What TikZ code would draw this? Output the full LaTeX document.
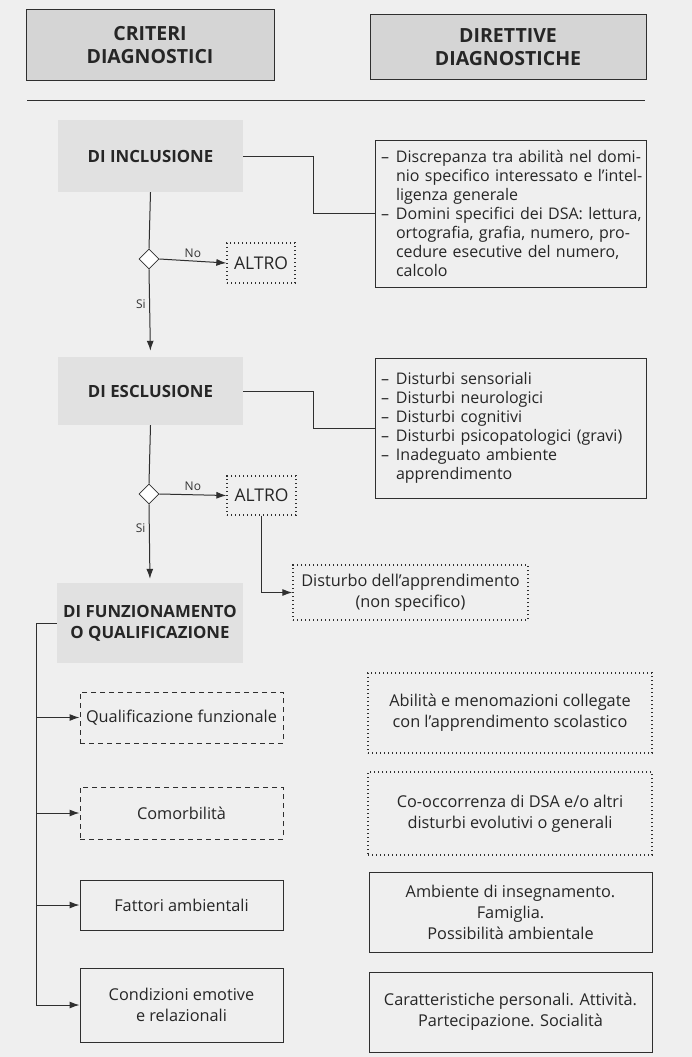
\documentclass[tikz,border=0pt]{standalone}
\usepackage{fontspec}
\setmainfont{Open Sans}
\usepackage{xcolor}
\usetikzlibrary{shapes,arrows.meta,positioning,calc}
\definecolor{pagebg}{HTML}{EFEFEF}
\definecolor{hdrgray}{HTML}{D5D5D5}
\definecolor{critgray}{HTML}{E1E1E1}
\definecolor{inkgray}{HTML}{2F2F2F}
\newcommand{\trat}[1]{\mbox{\makebox[15pt][l]{–}#1}}
\newcommand{\cont}[1]{\mbox{\hspace*{15pt}#1}}

\begin{document}
\begin{tikzpicture}[x=1pt,y=-1pt,
    hdrbox/.style={draw=inkgray, fill=hdrgray, line width=1pt, align=center,
        text=black!85, font=\fontsize{19.5}{23}\selectfont\bfseries},
    critbox/.style={fill=critgray, minimum width=185pt, align=center,
        text=black!85, font=\fontsize{16.8}{21}\selectfont\bfseries},
    dirbox/.style={draw=inkgray, line width=1pt, text width=259pt, inner xsep=6pt,
        align=left, text=black!85, font=\fontsize{16}{19}\selectfont},
    plainbox/.style={draw=inkgray, line width=1pt, align=center, inner sep=0pt,
        text=black!85, font=\fontsize{16.3}{21}\selectfont},
    dotbox/.style={plainbox, line width=1.3pt, dash pattern=on 1.3pt off 2.7pt},
    dashbox/.style={plainbox, dash pattern=on 5pt off 4pt},
    dec/.style={diamond, draw=inkgray, fill=white, line width=0.8pt,
        minimum size=20pt, inner sep=0pt},
    link/.style={draw=inkgray, line width=1pt},
    arr/.style={link, -{Latex[length=10pt,width=7pt]}},
    lbl/.style={font=\fontsize{12}{13}\selectfont, text=black!80}]

    % Pagina
    \useasboundingbox (0,0) rectangle (692,1057);
    \fill[pagebg] (0,0) rectangle (692,1057);

    % Intestazioni
    \node[hdrbox, minimum width=248pt, minimum height=70pt] (critH) at (150,45) {CRITERI\\DIAGNOSTICI};
    \node[hdrbox, minimum width=276pt, minimum height=64pt] (dirH) at (508,47) {DIRETTIVE\\DIAGNOSTICHE};
    \coordinate (ruleL) at (27,100);
    \coordinate (ruleR) at (645,100);
    \draw[link] (ruleL) -- (ruleR);

    % Inclusione
    \node[critbox, minimum height=72pt] (incl) at (150.5,156) {DI INCLUSIONE};
    \node[dirbox, minimum height=147pt] (dirA) at (510.5,213.5) {%
        \trat{Discrepanza tra abilità nel domi-}\\
        \cont{nio specifico interessato e l’intel-}\\
        \cont{ligenza generale}\\
        \trat{Domini specifici dei DSA: lettura,}\\
        \cont{ortografia, grafia, numero, pro-}\\
        \cont{cedure esecutive del numero,}\\
        \cont{calcolo}};
    \node[dec] (decA) at (149,259) {};
    \node[dotbox, minimum width=68pt, minimum height=40pt, font=\fontsize{17.5}{20}\selectfont] (altroA) at (261,263) {ALTRO};
    \draw[link] (incl.east) -- ++(70,0) |- (dirA.west);
    \draw[link] (incl.south) -- (decA.north);
    \draw[arr] (decA.east) -- node[lbl, above] {No} (altroA.west);

    % Esclusione
    \node[critbox, minimum height=68pt] (escl) at (150.5,391) {DI ESCLUSIONE};
    \node[dirbox, minimum height=140pt] (dirB) at (510.5,428) {%
        \trat{Disturbi sensoriali}\\
        \trat{Disturbi neurologici}\\
        \trat{Disturbi cognitivi}\\
        \trat{Disturbi psicopatologici (gravi)}\\
        \trat{Inadeguato ambiente}\\
        \cont{apprendimento}};
    \draw[arr, shorten >=6pt] (decA.south) -- node[lbl, left, pos=0.4] {Si} (escl.north);
    \node[dec] (decB) at (149,494) {};
    \node[dotbox, minimum width=69pt, minimum height=39pt, font=\fontsize{17.5}{20}\selectfont] (altroB) at (261.5,495.5) {ALTRO};
    \node[dotbox, minimum width=235pt, minimum height=55pt] (dist) at (410.5,592.5) {Disturbo dell’apprendimento\\(non specifico)};
    \draw[link] (escl.east) -- ++(70,0) |- (dirB.west);
    \draw[link] (escl.south) -- (decB.north);
    \draw[arr] (decB.east) -- node[lbl, above] {No} (altroB.west);
    \draw[arr] (altroB.south) |- (dist.west);

    % Funzionamento
    \node[critbox, minimum width=186pt, minimum height=80pt] (funz) at (150,623) {DI FUNZIONAMENTO\\O QUALIFICAZIONE};
    \draw[arr, shorten >=4pt] (decB.south) -- node[lbl, left, pos=0.3] {Si} (funz.north);
    \node[dashbox, minimum width=203pt, minimum height=51pt] (qual) at (181.5,717.5) {Qualificazione funzionale};
    \node[dashbox, minimum width=203pt, minimum height=52pt] (como) at (181.5,813) {Comorbilità};
    \node[plainbox, minimum width=203pt, minimum height=50pt] (fatt) at (181.5,905) {Fattori ambientali};
    \node[plainbox, minimum width=203pt, minimum height=74pt] (cond) at (181.5,1005) {Condizioni emotive\\e relazionali};
    \coordinate (bus) at (36,623);
    \draw[link] (funz.west) -- (bus);
    \draw[arr] (bus) |- (cond.west);
    \draw[arr] (bus |- qual.west) -- (qual.west);
    \draw[arr] (bus |- como.west) -- (como.west);
    \draw[arr] (bus |- fatt.west) -- (fatt.west);

    % Direttive di funzionamento
    \node[dotbox, minimum width=284pt, minimum height=80pt] (abil) at (510,713) {Abilità e menomazioni collegate\\con l’apprendimento scolastico};
    \node[dotbox, minimum width=284pt, minimum height=83pt] (cooc) at (510,813.5) {Co-occorrenza di DSA e/o altri\\disturbi evolutivi o generali};
    \node[plainbox, minimum width=283pt, minimum height=80pt] (amb) at (510.5,912) {Ambiente di insegnamento.\\Famiglia.\\Possibilità ambientale};
    \node[plainbox, minimum width=283pt, minimum height=80pt] (cara) at (510.5,1012) {Caratteristiche personali. Attività.\\Partecipazione. Socialità};
\end{tikzpicture}
\end{document}
